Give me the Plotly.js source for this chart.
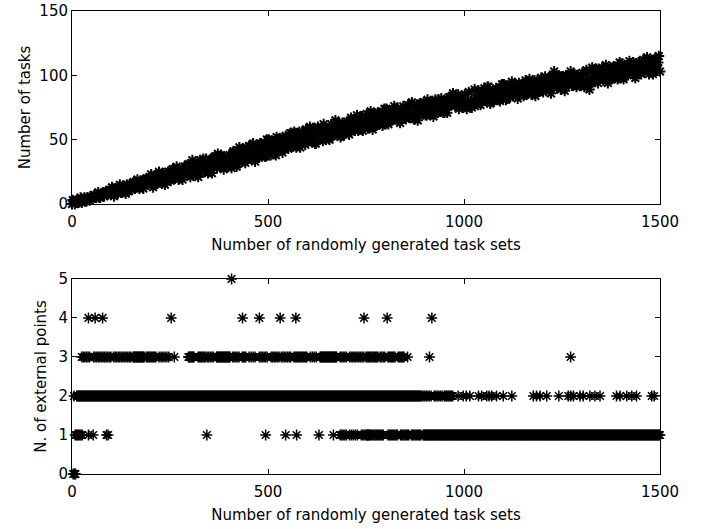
<!DOCTYPE html>
<html>
<head>
<meta charset="utf-8">
<script src="https://cdn.plot.ly/plotly-3.0.1.min.js"></script>
<style>html,body{margin:0;padding:0;background:#fff;}#chart{width:707px;height:529px;}</style>
</head>
<body>
<div id="chart"></div>
<script>
// ---------- Top panel: number of tasks per randomly generated task set ----------
// samples read at task sets 0,5,10,...,1500
const taskCountsA = [
  0,2,1,3,2,1,4,3,5,3,4,6,5,7,5,8,7,9,7,10,
  9,12,8,11,13,9,14,11,15,10,13,16,12,17,14,18,13,16,20,15,
  17,21,15,19,23,18,16,22,20,25,19,23,27,21,24,20,28,23,26,30,
  25,31,22,28,33,24,29,35,27,31,26,34,30,37,28,33,38,30,35,29,
  36,31,40,34,29,38,42,33,37,44,35,40,46,36,42,38,47,39,44,37,
  45,40,49,43,38,47,51,42,46,53,44,49,55,45,50,47,56,48,53,46,
  54,49,58,51,47,55,52,57,49,54,59,51,56,53,61,55,58,52,63,57,
  60,55,64,58,62,66,57,63,68,60,65,59,70,62,66,61,71,64,68,62,
  69,64,72,66,70,74,65,71,68,76,67,72,69,77,70,66,75,71,78,70,
  74,69,77,72,79,70,75,81,73,77,71,80,76,83,78,84,81,85,79,84,
  78,76,80,76,75,79,83,77,86,81,88,84,91,85,80,88,83,87,81,89,
  85,90,82,87,93,84,89,86,94,87,91,85,95,88,92,86,96,90,87,94,
  91,96,88,94,98,92,103,97,93,99,91,96,100,94,97,92,101,95,98,93,
  99,95,102,91,89,97,101,95,104,98,100,96,105,99,102,97,106,100,103,98,
  104,99,107,101,105,109,102,106,100,110,104,108,103,111,105,109,104,112,106,110,103
];
// samples read at task sets 2,7,12,...,1497
const taskCountsB = [
  3,0,3,1,5,3,5,2,4,6,4,7,5,9,5,8,6,10,8,11,
  13,6,12,8,15,10,14,8,13,15,11,17,13,19,12,17,12,19,16,20,
  23,13,21,16,25,18,24,15,21,25,18,27,20,29,19,26,19,29,25,31,
  21,34,25,31,21,34,30,25,35,24,33,24,36,30,39,29,37,27,35,29,
  38,28,41,35,31,44,34,42,32,40,45,35,47,33,42,36,47,45,37,50,
  50,38,48,41,52,44,51,40,47,52,43,55,46,56,44,52,44,56,51,58,
  48,60,51,58,47,60,56,51,62,50,59,50,62,56,65,55,63,53,61,55,
  64,54,67,60,57,69,59,68,57,66,70,60,72,58,66,61,71,70,61,74,
  74,62,71,65,76,67,74,63,70,74,66,77,68,79,66,74,65,78,72,79,
  69,81,72,79,68,81,77,72,82,71,80,71,83,77,86,76,83,74,82,75,
  85,74,87,80,77,89,79,88,77,85,90,80,91,78,86,80,90,89,80,93,
  93,81,90,83,95,86,93,82,89,93,84,96,87,97,85,93,84,96,91,98,
  87,99,91,97,86,100,95,90,100,89,98,88,100,95,103,93,101,91,99,92,
  102,91,104,97,94,106,96,105,94,102,106,97,108,94,103,97,107,105,97,110,
  109,97,107,100,111,103,110,98,106,110,101,112,104,114,101,110,101,113,108,115
];

// ---------- Bottom panel: N. of external points (levels 0..5) ----------
// dense stretches: [first task set, last task set, spacing]
const level0Runs = [[3, 10, 3]];
const level1Runs = [[8, 28, 3], [684, 700, 4], [708, 728, 5], [738, 760, 4], [752, 795, 3], [806, 830, 3], [838, 860, 3], [866, 890, 3], [896, 1500, 2]];
const level1Points = [42, 54, 88, 92, 344, 494, 545, 573, 630, 667];
const level2Runs = [[12, 892, 2], [896, 918, 4], [924, 944, 4], [950, 973, 3]];
const level2Points = [5, 985, 998, 1006, 1015, 1037, 1045, 1058, 1064, 1071, 1083, 1100, 1122, 1177, 1185, 1194, 1211, 1242, 1266, 1272, 1279, 1296, 1304, 1321, 1334, 1347, 1389, 1398, 1415, 1428, 1440, 1479, 1485];
const level3Runs = [[25, 45, 4], [55, 100, 4], [106, 150, 4], [156, 185, 2], [190, 215, 3], [222, 250, 5],
                    [297, 312, 2], [322, 340, 3], [345, 362, 4], [369, 403, 2], [410, 428, 4], [434, 445, 3],
                    [452, 470, 5], [478, 500, 4], [508, 528, 4], [534, 560, 4], [566, 600, 3], [608, 626, 5],
                    [633, 676, 2], [684, 700, 4], [708, 745, 4], [750, 780, 3], [786, 800, 4], [806, 826, 3], [832, 848, 3]];
const level3Points = [261, 856, 912, 1272];
const level4Points = [42, 59, 78, 253, 435, 478, 531, 571, 745, 804, 918];
const level5Points = [407];

function expandRuns(runs) {
  const out = [];
  runs.forEach(([a, b, s]) => { for (let v = a; v <= b; v += s) out.push(v); });
  return out;
}

const levelX = [];
const levelY = [];
function addLevel(level, runs, points) {
  const xs = expandRuns(runs).concat(points);
  xs.forEach(v => { levelX.push(v); levelY.push(level); });
}
addLevel(0, level0Runs, []);
addLevel(1, level1Runs, level1Points);
addLevel(2, level2Runs, level2Points);
addLevel(3, level3Runs, level3Points);
addLevel(4, [], level4Points);
addLevel(5, [], level5Points);

const topX = taskCountsA.map((_, i) => i * 5).concat(taskCountsB.map((_, i) => i * 5 + 2));
const topY = taskCountsA.concat(taskCountsB);

const starTop = {symbol: 'asterisk-open', size: 9, color: '#000', line: {color: '#161616', width: 2}};
const starBottom = {symbol: 'asterisk-open', size: 9, color: '#000', line: {color: '#161616', width: 1.5}};

const traces = [
  {type: 'scatter', mode: 'markers', x: topX, y: topY, xaxis: 'x', yaxis: 'y',
   marker: starTop, cliponaxis: false, hoverinfo: 'skip'},
  {type: 'scatter', mode: 'markers', x: levelX, y: levelY, xaxis: 'x2', yaxis: 'y2',
   marker: starBottom, cliponaxis: false, hoverinfo: 'skip'}
];

const fontFam = 'DejaVu Sans, Arial, sans-serif';
const axisCommon = {
  showline: true, mirror: 'ticks', linecolor: '#000', linewidth: 1,
  ticks: 'inside', ticklen: 5, tickwidth: 1, tickcolor: '#000',
  showgrid: false, zeroline: false,
  tickfont: {family: fontFam, size: 15, color: '#000'}
};
const titleFont = {family: fontFam, size: 15, color: '#000'};

const layout = {
  width: 707, height: 529,
  margin: {l: 72, r: 47, t: 11, b: 55},
  paper_bgcolor: '#fff', plot_bgcolor: '#fff',
  showlegend: false,
  font: {family: fontFam, size: 15, color: '#000'},
  xaxis: Object.assign({}, axisCommon, {
    domain: [0, 1], anchor: 'y', range: [0, 1500], tickvals: [0, 500, 1000, 1500], ticklabelstandoff: 4,
    title: {text: 'Number of randomly generated task sets', font: titleFont, standoff: 9}
  }),
  yaxis: Object.assign({}, axisCommon, {
    domain: [0.5832, 1], anchor: 'x', range: [0, 150], tickvals: [0, 50, 100, 150],
    title: {text: 'Number of tasks', font: titleFont, standoff: 5}
  }),
  xaxis2: Object.assign({}, axisCommon, {
    domain: [0, 1], anchor: 'y2', range: [0, 1500], tickvals: [0, 500, 1000, 1500], ticklabelstandoff: 4,
    title: {text: 'Number of randomly generated task sets', font: titleFont, standoff: 9}
  }),
  yaxis2: Object.assign({}, axisCommon, {
    domain: [0, 0.4212], anchor: 'x2', range: [0, 5], tickvals: [0, 1, 2, 3, 4, 5],
    title: {text: 'N. of external points', font: titleFont, standoff: 8}
  })
};

Plotly.newPlot('chart', traces, layout, {displayModeBar: false, staticPlot: true});
</script>
</body>
</html>
